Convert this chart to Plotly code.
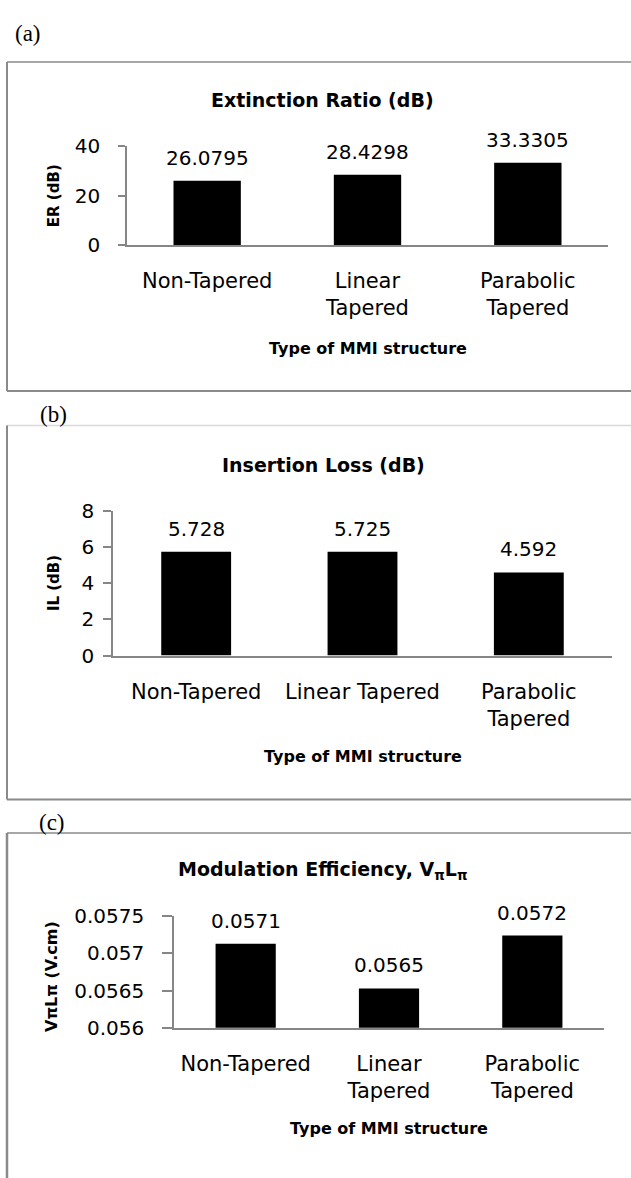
import plotly.graph_objects as go

# ---------------- data ----------------
cats_a = ["Non-Tapered", "Linear<br>Tapered", "Parabolic<br>Tapered"]
cats_b = ["Non-Tapered", "Linear Tapered", "Parabolic<br>Tapered"]
cats_c = ["Non-Tapered", "Linear<br>Tapered", "Parabolic<br>Tapered"]

er_values = [26.0795, 28.4298, 33.3305]
il_values = [5.728, 5.725, 4.592]
vl_values = [0.05713, 0.05653, 0.05724]

er_labels = ["26.0795", "28.4298", "33.3305"]
il_labels = ["5.728", "5.725", "4.592"]
vl_labels = ["0.0571", "0.0565", "0.0572"]

er_ticks = [0, 20, 40]
il_ticks = [0, 2, 4, 6, 8]
vl_ticks = [0.056, 0.0565, 0.057, 0.0575]
vl_ticktext = ["0.056", "0.0565", "0.057", "0.0575"]

titles = ["Extinction Ratio (dB)", "Insertion Loss (dB)",
          "Modulation Efficiency, V<sub>π</sub>L<sub>π</sub>"]
ytitles = ["ER (dB)", "IL (dB)", "VπLπ (V.cm)"]
xtitle = "Type of MMI structure"
panel_tags = ["(a)", "(b)", "(c)"]

# ---------------- layout helpers ----------------
W, H = 631, 1178
FONT = "DejaVu Sans"
GRAY = "#868686"


def px(x):
    return x / W


def py(y):
    return 1 - y / H


fig = go.Figure()

panels = [
    dict(cats=cats_a, vals=er_values, labels=er_labels, ticks=er_ticks, ticktext=[str(t) for t in er_ticks],
         rng=[0, 40], xdom=[127, 608], ydom=[137, 238], ticklen=7, standoff=14,
         title_xy=(322, 90), ytitle_xy=(54, 188), ytitle_size=15, xtitle_y=343, tag_xy=(28, 22)),
    dict(cats=cats_b, vals=il_values, labels=il_labels, ticks=il_ticks, ticktext=[str(t) for t in il_ticks],
         rng=[0, 8], xdom=[113, 612], ydom=[509, 657], ticklen=8, standoff=5,
         title_xy=(324, 462), ytitle_xy=(54, 583), ytitle_size=15, xtitle_y=760, tag_xy=(53, 411)),
    dict(cats=cats_c, vals=vl_values, labels=vl_labels, ticks=vl_ticks, ticktext=vl_ticktext,
         rng=[0.056, 0.0575], xdom=[174, 604], ydom=[923, 1037], ticklen=10, standoff=14,
         title_xy=(322, 876), ytitle_xy=(52, 985), ytitle_size=16, xtitle_y=1140, tag_xy=(52, 827)),
]

annotations = []
for i, p in enumerate(panels):
    n = "" if i == 0 else str(i + 1)
    xa, ya = "x" + n, "y" + n
    fig.add_trace(go.Bar(x=p["cats"], y=p["vals"], marker=dict(color="black", line=dict(width=0)),
                         xaxis=xa, yaxis=ya, showlegend=False, hoverinfo="x+y"))
    fig.update_layout(**{
        "xaxis" + n: dict(domain=[px(p["xdom"][0]), px(p["xdom"][1])], anchor=ya,
                          showline=True, linecolor=GRAY, linewidth=1.5, ticks="",
                          showgrid=False, zeroline=False, type="category",
                          tickfont=dict(family=FONT, size=21, color="black"),
                          ticklabelstandoff=16),
        "yaxis" + n: dict(domain=[py(p["ydom"][1]), py(p["ydom"][0])], anchor=xa,
                          range=p["rng"], tickvals=p["ticks"], ticktext=p["ticktext"],
                          showline=True, linecolor=GRAY, linewidth=1.5, ticks="outside",
                          ticklen=p["ticklen"], tickcolor=GRAY, tickwidth=1.5,
                          showgrid=False, zeroline=False,
                          tickfont=dict(family=FONT, size=20, color="black"),
                          ticklabelstandoff=p["standoff"]),
    })
    # data labels
    for c, v, t in zip(p["cats"], p["vals"], p["labels"]):
        annotations.append(dict(x=c, y=v, xref=xa, yref=ya, text=t, showarrow=False,
                                yanchor="middle", yshift=23,
                                font=dict(family=FONT, size=20, color="black")))
    # chart title
    annotations.append(dict(x=px(p["title_xy"][0]), y=py(p["title_xy"][1]), xref="paper", yref="paper",
                            text="<b>" + titles[i] + "</b>", showarrow=False,
                            xanchor="center", yanchor="middle",
                            font=dict(family=FONT, size=19, color="black")))
    # y title
    annotations.append(dict(x=px(p["ytitle_xy"][0]), y=py(p["ytitle_xy"][1]), xref="paper", yref="paper",
                            text="<b>" + ytitles[i] + "</b>", showarrow=False, textangle=-90,
                            xanchor="center", yanchor="middle",
                            font=dict(family=FONT, size=p["ytitle_size"], color="black")))
    # x title
    annotations.append(dict(x=0.5, y=py(p["xtitle_y"]), xref=xa + " domain", yref="paper",
                            text="<b>" + xtitle + "</b>", showarrow=False,
                            xanchor="center", yanchor="middle",
                            font=dict(family=FONT, size=16, color="black")))
    # panel tag
    annotations.append(dict(x=px(p["tag_xy"][0]), y=py(p["tag_xy"][1]), xref="paper", yref="paper",
                            text=panel_tags[i], showarrow=False,
                            xanchor="center", yanchor="middle",
                            font=dict(family="Liberation Serif", size=23, color="black")))

# panel borders
BORDER = "#8a8a8a"
shapes = [
    # (a)
    dict(type="line", xref="paper", yref="paper", x0=px(7), x1=1.02, y0=py(51), y1=py(51),
         line=dict(color=BORDER, width=1.5)),
    dict(type="line", xref="paper", yref="paper", x0=px(7), x1=px(7), y0=py(51), y1=py(387),
         line=dict(color=BORDER, width=2)),
    dict(type="line", xref="paper", yref="paper", x0=px(7), x1=1.02, y0=py(387), y1=py(387),
         line=dict(color=BORDER, width=2)),
    # (b)
    dict(type="line", xref="paper", yref="paper", x0=px(7), x1=1.02, y0=py(422), y1=py(422),
         line=dict(color="#d9d9d9", width=1.5)),
    dict(type="line", xref="paper", yref="paper", x0=px(7), x1=px(7), y0=py(422), y1=py(804),
         line=dict(color=BORDER, width=2)),
    dict(type="line", xref="paper", yref="paper", x0=px(7), x1=1.02, y0=py(804), y1=py(804),
         line=dict(color=BORDER, width=2)),
    # (c)
    dict(type="line", xref="paper", yref="paper", x0=px(7), x1=1.02, y0=py(838), y1=py(838),
         line=dict(color=BORDER, width=1.5)),
    dict(type="line", xref="paper", yref="paper", x0=px(7), x1=px(7), y0=py(838), y1=-0.02,
         line=dict(color=BORDER, width=2.5)),
]

fig.update_layout(width=W, height=H, autosize=False,
                  margin=dict(l=0, r=0, t=0, b=0),
                  paper_bgcolor="white", plot_bgcolor="white",
                  bargap=0.58, annotations=annotations, shapes=shapes,
                  font=dict(family=FONT, color="black"))

fig.write_html("out.html", config={"displayModeBar": False},
               post_script="document.body.style.margin='0';document.body.style.overflow='hidden';")
